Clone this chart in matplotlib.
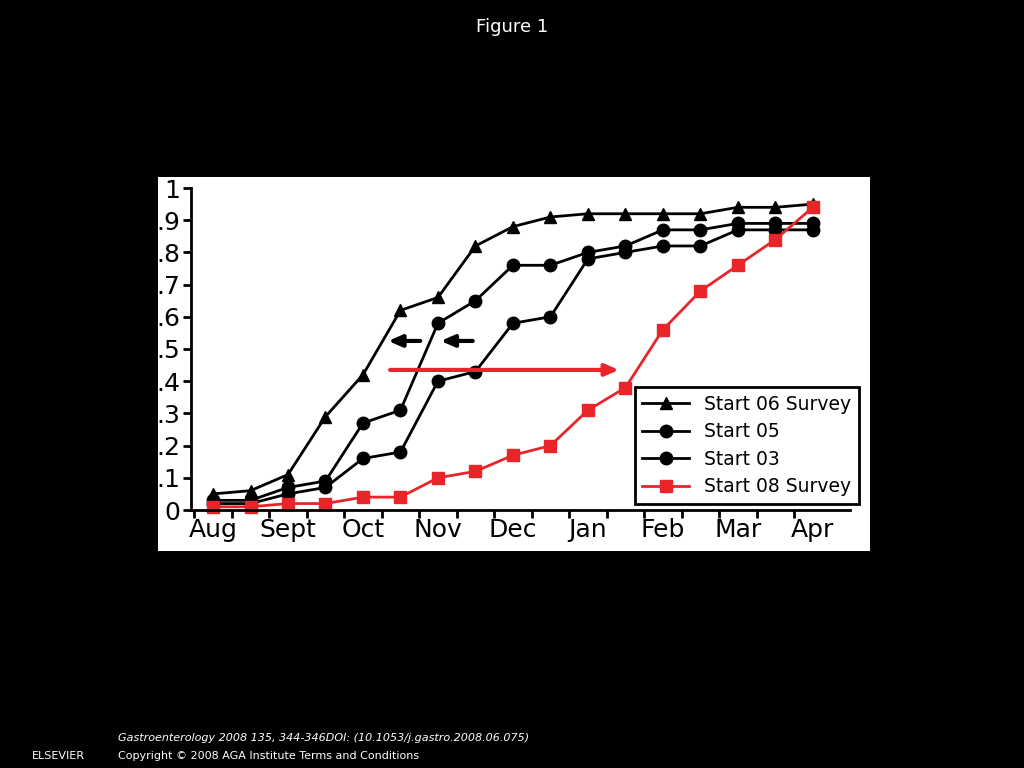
import matplotlib
matplotlib.use("Agg")
import matplotlib.pyplot as plt

x_idx = list(range(17))
months = ["Aug", "Sept", "Oct", "Nov", "Dec", "Jan", "Feb", "Mar", "Apr"]
start06 = [0.05, 0.06, 0.11, 0.29, 0.42, 0.62, 0.66, 0.82, 0.88, 0.91, 0.92, 0.92, 0.92, 0.92, 0.94, 0.94, 0.95]
start05 = [0.03, 0.03, 0.07, 0.09, 0.27, 0.31, 0.58, 0.65, 0.76, 0.76, 0.80, 0.82, 0.87, 0.87, 0.89, 0.89, 0.89]
start03 = [0.02, 0.02, 0.05, 0.07, 0.16, 0.18, 0.40, 0.43, 0.58, 0.60, 0.78, 0.80, 0.82, 0.82, 0.87, 0.87, 0.87]
start08 = [0.01, 0.01, 0.02, 0.02, 0.04, 0.04, 0.10, 0.12, 0.17, 0.20, 0.31, 0.38, 0.56, 0.68, 0.76, 0.84, 0.94]
yticks = [0, .1, .2, .3, .4, .5, .6, .7, .8, .9, 1]
ytick_labels = ["0", ".1", ".2", ".3", ".4", ".5", ".6", ".7", ".8", ".9", "1"]

fig = plt.figure(figsize=(10.24, 7.68), dpi=100, facecolor="black")
bg = fig.add_axes([158/1024, 1-551/768, (870-158)/1024, (551-177)/768], zorder=-1)
bg.set_facecolor("white")
bg.set_xticks([]); bg.set_yticks([])
for s in bg.spines.values():
    s.set_visible(False)
fig.text(0.5, 1-27/768, "Figure 1", color="white", ha="center", va="center", fontsize=13)
ax = fig.add_axes([191/1024, 1-510/768, (850-191)/1024, (510-188)/768], zorder=1)
ax.patch.set_alpha(0)
for s in ["top", "right"]:
    ax.spines[s].set_visible(False)
ax.spines["left"].set_linewidth(2)
ax.spines["bottom"].set_linewidth(2)

kw = dict(lw=2, ms=9, clip_on=False)
ax.plot(x_idx, start06, "k-^", label="Start 06 Survey", **kw)
ax.plot(x_idx, start05, "k-o", label="Start 05", **kw)
ax.plot(x_idx, start03, "k-o", label="Start 03", **kw)
ax.plot(x_idx, start08, "-s", color="#e8262a", label="Start 08 Survey", **kw)

ax.annotate("", xy=(4.6, 0.525), xytext=(5.6, 0.525),
            arrowprops=dict(arrowstyle="-|>,head_length=0.8,head_width=0.35", color="black", lw=3))
ax.annotate("", xy=(6.0, 0.525), xytext=(7.0, 0.525),
            arrowprops=dict(arrowstyle="-|>,head_length=0.8,head_width=0.35", color="black", lw=3))
ax.annotate("", xy=(10.9, 0.435), xytext=(4.65, 0.435),
            arrowprops=dict(arrowstyle="-|>,head_length=0.8,head_width=0.35", color="#e8262a", lw=3))

ax.set_xlim(-0.587, 16.99)
ax.set_ylim(0, 1.0)
ax.set_xticks([i - 0.5 for i in range(17)])
ax.set_xticklabels([])
ax.set_xticks(list(range(0, 17, 2)), minor=True)
ax.set_xticklabels(months, minor=True, fontsize=18)
ax.tick_params(axis="x", which="minor", length=0, pad=6)
ax.tick_params(axis="x", which="major", direction="out", length=6, width=2)
ax.set_yticks(yticks)
ax.set_yticklabels(ytick_labels, fontsize=18)
ax.tick_params(axis="y", direction="out", length=6, width=2, pad=2)

leg = ax.legend(loc="upper right", bbox_to_anchor=(868/1024, 1-378/768), bbox_transform=fig.transFigure,
                fontsize=13.5, frameon=True, fancybox=False, edgecolor="black", handlelength=2.5,
                borderpad=0.4, labelspacing=0.45, handletextpad=0.8, framealpha=1)
leg.get_frame().set_linewidth(2)

fig.text(118/1024, 1-738/768, "Gastroenterology 2008 135, 344-346DOI: (10.1053/j.gastro.2008.06.075)",
         color="white", fontsize=8, style="italic", va="center")
fig.text(118/1024, 1-756/768, "Copyright \u00a9 2008 AGA Institute Terms and Conditions",
         color="white", fontsize=8, va="center")
fig.text(58/1024, 1-756/768, "ELSEVIER", color="white", fontsize=8, ha="center", va="center")
fig.savefig("out.png", dpi=100, facecolor="black")
